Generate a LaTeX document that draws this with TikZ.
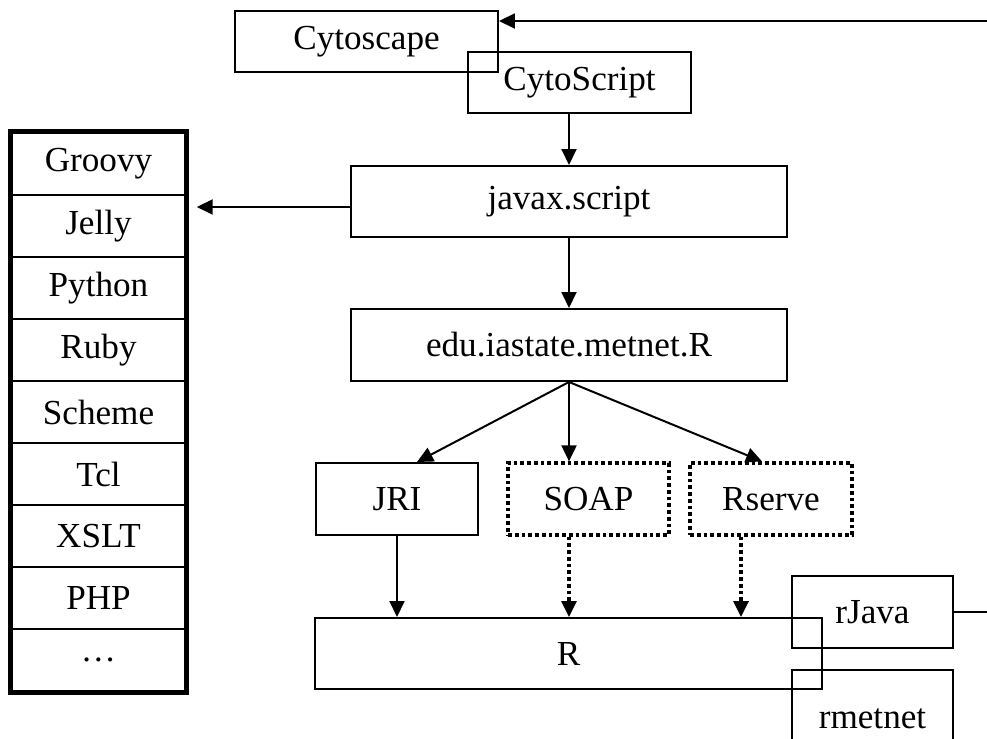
\documentclass[tikz,border=0pt]{standalone}
\usepackage{fontspec}
\setmainfont{Liberation Serif}
\usetikzlibrary{arrows.meta,positioning,fit,calc}
\tikzset{box/.style={draw, line width=0.04cm, inner sep=0pt, font=\fontsize{20}{24}\selectfont}}
\tikzset{dbox/.style={box, line width=0.065cm, dash pattern=on 0.075cm off 0.06cm}}
\tikzset{lang/.style={draw, line width=0.05cm, inner sep=0pt, minimum width=3.46cm, minimum height=1.24cm, font=\fontsize{20}{24}\selectfont}}
\tikzset{arr/.style={draw, line width=0.04cm, -{Triangle[length=0.32cm,width=0.3cm]}}}
\tikzset{darr/.style={arr, line width=0.065cm, dash pattern=on 0.075cm off 0.06cm}}

\begin{document}
\begin{tikzpicture}[x=0.02cm, y=-0.02cm]
	\clip (0,0) rectangle (987,739);

	\node[box, minimum width=5.26cm, minimum height=1.22cm] (cyto) at (366.5,41.5){Cytoscape};
	\node[box, minimum width=4.46cm, minimum height=1.22cm] (cscript) at (579.5,82.5){CytoScript};
	\node[box, minimum width=8.72cm, minimum height=1.42cm] (javax) at (569,201.5){javax.script};
	\node[box, minimum width=8.72cm, minimum height=1.44cm] (edu) at (569,345){edu.iastate.metnet.R};

	\node[box, minimum width=3.24cm, minimum height=1.44cm] (jri) at (397,499){JRI};
	\node[dbox, minimum width=3.22cm, minimum height=1.44cm] (soap) at (588.5,499){SOAP};
	\node[dbox, minimum width=3.24cm, minimum height=1.44cm] (rserve) at (771,499){Rserve};

	\node[box, minimum width=10.14cm, minimum height=1.42cm] (r) at (568.5,653.5){R};
	\node[box, minimum width=3.22cm, minimum height=1.44cm] (rjava) at (872.5,612){rJava};
	\node[box, minimum width=3.22cm, minimum height=1.96cm] (rmetnet) at (872.5,719){rmetnet};

	% script engines
	\foreach \name [count=\i] in {Groovy,Jelly,Python,Ruby,Scheme,Tcl,XSLT,PHP,…}
		\node[lang] (l\i) at (98.5,102+62*\i){\name};
	\node[fit=(l1)(l9), draw, line width=0.1cm, inner sep=0pt] (langs){};

	\coordinate (in) at (987,21);
	\coordinate (out) at (987,612);

	\draw[arr] (in) -- (in -| cyto.east);
	\draw[arr, shorten >=0.16cm] ([yshift=-0.11cm]javax.west) -- ([yshift=-0.11cm]javax.west -| langs.east);
	\draw[arr] (cscript.south -| javax.north) -- (javax.north);
	\draw[arr] (javax) -- (edu);

	\draw[arr] (edu.south) -- ([xshift=0.4cm]jri.north);
	\draw[arr] (edu.south) -- (edu.south |- soap.north);
	\draw[arr] (edu.south) -- ([xshift=-0.18cm]rserve.north);

	\draw[arr] (jri.south) -- (jri.south |- r.north);
	\draw[darr] (edu.south |- soap.south) -- (edu.south |- r.north);
	\draw[darr] ([xshift=-0.6cm]rserve.south) -- ([xshift=-0.6cm]rserve.south |- r.north);

	\draw[line width=0.04cm] (rjava.east) -- (out);
\end{tikzpicture}
\end{document}
